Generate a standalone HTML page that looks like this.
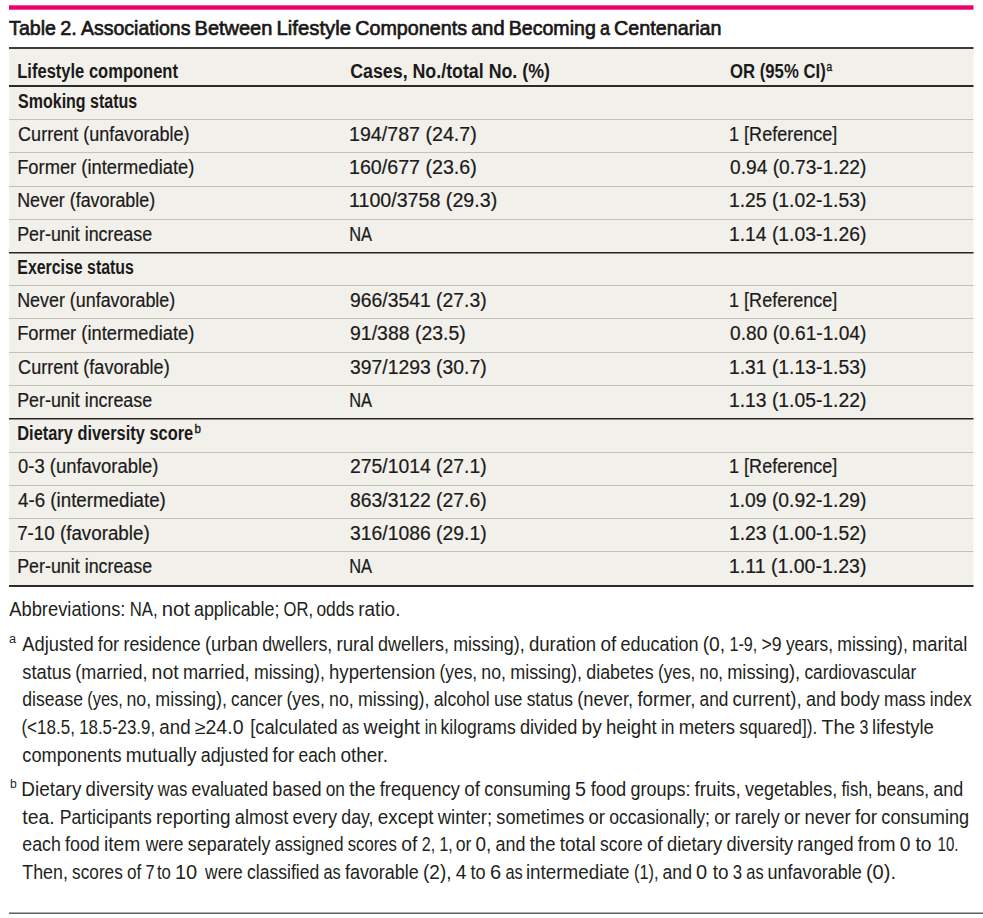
<!DOCTYPE html>
<html><head><meta charset="utf-8"><style>
html,body{margin:0;padding:0;background:#fff;}
svg{display:block;}
text{font-family:"Liberation Sans", sans-serif;}
</style></head><body>
<svg width="983" height="918" viewBox="0 0 983 918">
<rect x="9" y="5.3" width="964.5" height="4.4" fill="#ec0070"/>
<rect x="9" y="49" width="964.5" height="536" fill="#f1f0ea"/>
<rect x="9" y="47" width="964.5" height="2" fill="#3f3b39"/>
<rect x="9" y="85" width="964.5" height="2" fill="#2e2a28"/>
<rect x="9" y="119" width="964.5" height="1" fill="#c4c1b7"/>
<rect x="9" y="152" width="964.5" height="1" fill="#c4c1b7"/>
<rect x="9" y="186" width="964.5" height="1" fill="#c4c1b7"/>
<rect x="9" y="219" width="964.5" height="1" fill="#c4c1b7"/>
<rect x="9" y="252.0" width="964.5" height="1.5" fill="#2b2624"/>
<rect x="9" y="285" width="964.5" height="1" fill="#c4c1b7"/>
<rect x="9" y="318" width="964.5" height="1" fill="#c4c1b7"/>
<rect x="9" y="352" width="964.5" height="1" fill="#c4c1b7"/>
<rect x="9" y="385" width="964.5" height="1" fill="#c4c1b7"/>
<rect x="9" y="418.0" width="964.5" height="1.5" fill="#2b2624"/>
<rect x="9" y="452" width="964.5" height="1" fill="#c4c1b7"/>
<rect x="9" y="485" width="964.5" height="1" fill="#c4c1b7"/>
<rect x="9" y="518" width="964.5" height="1" fill="#c4c1b7"/>
<rect x="9" y="551" width="964.5" height="1" fill="#c4c1b7"/>
<rect x="9" y="585" width="964.5" height="2" fill="#2e2a28"/>
<rect x="9" y="912" width="974" height="1" fill="#ababab"/>
<rect x="9" y="913" width="974" height="1" fill="#626262"/>
<text x="17.25" y="78.00" font-size="19.5" font-weight="bold" fill="#1c1a1a" textLength="160.72" lengthAdjust="spacingAndGlyphs">Lifestyle component</text>
<text x="350.20" y="78.00" font-size="19.5" font-weight="bold" fill="#1c1a1a" textLength="199.75" lengthAdjust="spacingAndGlyphs">Cases, No./total No. (%)</text>
<text x="730.00" y="78.00" font-size="19.5" font-weight="bold" fill="#1c1a1a" textLength="95.72" lengthAdjust="spacingAndGlyphs">OR (95% CI)</text>
<text x="18.10" y="108.00" font-size="19.5" font-weight="bold" fill="#1c1a1a" textLength="119.07" lengthAdjust="spacingAndGlyphs">Smoking status</text>
<text x="18.10" y="141.00" font-size="19.5" fill="#1c1a1a" stroke="#1c1a1a" stroke-width="0.2" textLength="171.46" lengthAdjust="spacingAndGlyphs">Current (unfavorable)</text>
<text x="348.99" y="141.00" font-size="19.5" fill="#1c1a1a" stroke="#1c1a1a" stroke-width="0.2" textLength="127.80" lengthAdjust="spacingAndGlyphs">194/787 (24.7)</text>
<text x="729.08" y="141.00" font-size="19.5" fill="#1c1a1a" stroke="#1c1a1a" stroke-width="0.2" textLength="108.21" lengthAdjust="spacingAndGlyphs">1 [Reference]</text>
<text x="17.16" y="174.00" font-size="19.5" fill="#1c1a1a" stroke="#1c1a1a" stroke-width="0.2" textLength="177.20" lengthAdjust="spacingAndGlyphs">Former (intermediate)</text>
<text x="348.99" y="174.00" font-size="19.5" fill="#1c1a1a" stroke="#1c1a1a" stroke-width="0.2" textLength="127.80" lengthAdjust="spacingAndGlyphs">160/677 (23.6)</text>
<text x="730.00" y="174.00" font-size="19.5" fill="#1c1a1a" stroke="#1c1a1a" stroke-width="0.2" textLength="136.39" lengthAdjust="spacingAndGlyphs">0.94 (0.73-1.22)</text>
<text x="17.18" y="207.00" font-size="19.5" fill="#1c1a1a" stroke="#1c1a1a" stroke-width="0.2" textLength="137.97" lengthAdjust="spacingAndGlyphs">Never (favorable)</text>
<text x="348.99" y="207.00" font-size="19.5" fill="#1c1a1a" stroke="#1c1a1a" stroke-width="0.2" textLength="148.20" lengthAdjust="spacingAndGlyphs">1100/3758 (29.3)</text>
<text x="729.01" y="207.00" font-size="19.5" fill="#1c1a1a" stroke="#1c1a1a" stroke-width="0.2" textLength="137.38" lengthAdjust="spacingAndGlyphs">1.25 (1.02-1.53)</text>
<text x="17.18" y="241.00" font-size="19.5" fill="#1c1a1a" stroke="#1c1a1a" stroke-width="0.2" textLength="134.99" lengthAdjust="spacingAndGlyphs">Per-unit increase</text>
<text x="349.16" y="241.00" font-size="19.5" fill="#1c1a1a" stroke="#1c1a1a" stroke-width="0.2" textLength="22.85" lengthAdjust="spacingAndGlyphs">NA</text>
<text x="729.01" y="241.00" font-size="19.5" fill="#1c1a1a" stroke="#1c1a1a" stroke-width="0.2" textLength="137.38" lengthAdjust="spacingAndGlyphs">1.14 (1.03-1.26)</text>
<text x="17.29" y="274.00" font-size="19.5" font-weight="bold" fill="#1c1a1a" textLength="116.59" lengthAdjust="spacingAndGlyphs">Exercise status</text>
<text x="17.18" y="307.00" font-size="19.5" fill="#1c1a1a" stroke="#1c1a1a" stroke-width="0.2" textLength="158.07" lengthAdjust="spacingAndGlyphs">Never (unfavorable)</text>
<text x="350.00" y="307.00" font-size="19.5" fill="#1c1a1a" stroke="#1c1a1a" stroke-width="0.2" textLength="136.69" lengthAdjust="spacingAndGlyphs">966/3541 (27.3)</text>
<text x="729.08" y="307.00" font-size="19.5" fill="#1c1a1a" stroke="#1c1a1a" stroke-width="0.2" textLength="108.21" lengthAdjust="spacingAndGlyphs">1 [Reference]</text>
<text x="17.16" y="340.00" font-size="19.5" fill="#1c1a1a" stroke="#1c1a1a" stroke-width="0.2" textLength="177.20" lengthAdjust="spacingAndGlyphs">Former (intermediate)</text>
<text x="350.00" y="340.00" font-size="19.5" fill="#1c1a1a" stroke="#1c1a1a" stroke-width="0.2" textLength="115.79" lengthAdjust="spacingAndGlyphs">91/388 (23.5)</text>
<text x="730.00" y="340.00" font-size="19.5" fill="#1c1a1a" stroke="#1c1a1a" stroke-width="0.2" textLength="136.39" lengthAdjust="spacingAndGlyphs">0.80 (0.61-1.04)</text>
<text x="18.10" y="374.00" font-size="19.5" fill="#1c1a1a" stroke="#1c1a1a" stroke-width="0.2" textLength="151.56" lengthAdjust="spacingAndGlyphs">Current (favorable)</text>
<text x="350.00" y="374.00" font-size="19.5" fill="#1c1a1a" stroke="#1c1a1a" stroke-width="0.2" textLength="136.69" lengthAdjust="spacingAndGlyphs">397/1293 (30.7)</text>
<text x="729.01" y="374.00" font-size="19.5" fill="#1c1a1a" stroke="#1c1a1a" stroke-width="0.2" textLength="137.38" lengthAdjust="spacingAndGlyphs">1.31 (1.13-1.53)</text>
<text x="17.18" y="407.00" font-size="19.5" fill="#1c1a1a" stroke="#1c1a1a" stroke-width="0.2" textLength="134.99" lengthAdjust="spacingAndGlyphs">Per-unit increase</text>
<text x="349.16" y="407.00" font-size="19.5" fill="#1c1a1a" stroke="#1c1a1a" stroke-width="0.2" textLength="22.85" lengthAdjust="spacingAndGlyphs">NA</text>
<text x="729.01" y="407.00" font-size="19.5" fill="#1c1a1a" stroke="#1c1a1a" stroke-width="0.2" textLength="137.38" lengthAdjust="spacingAndGlyphs">1.13 (1.05-1.22)</text>
<text x="17.26" y="440.00" font-size="19.5" font-weight="bold" fill="#1c1a1a" textLength="175.91" lengthAdjust="spacingAndGlyphs">Dietary diversity score</text>
<text x="18.10" y="473.00" font-size="19.5" fill="#1c1a1a" stroke="#1c1a1a" stroke-width="0.2" textLength="140.27" lengthAdjust="spacingAndGlyphs">0-3 (unfavorable)</text>
<text x="350.00" y="473.00" font-size="19.5" fill="#1c1a1a" stroke="#1c1a1a" stroke-width="0.2" textLength="136.69" lengthAdjust="spacingAndGlyphs">275/1014 (27.1)</text>
<text x="729.08" y="473.00" font-size="19.5" fill="#1c1a1a" stroke="#1c1a1a" stroke-width="0.2" textLength="108.21" lengthAdjust="spacingAndGlyphs">1 [Reference]</text>
<text x="18.10" y="507.00" font-size="19.5" fill="#1c1a1a" stroke="#1c1a1a" stroke-width="0.2" textLength="147.77" lengthAdjust="spacingAndGlyphs">4-6 (intermediate)</text>
<text x="350.00" y="507.00" font-size="19.5" fill="#1c1a1a" stroke="#1c1a1a" stroke-width="0.2" textLength="136.69" lengthAdjust="spacingAndGlyphs">863/3122 (27.6)</text>
<text x="729.01" y="507.00" font-size="19.5" fill="#1c1a1a" stroke="#1c1a1a" stroke-width="0.2" textLength="137.38" lengthAdjust="spacingAndGlyphs">1.09 (0.92-1.29)</text>
<text x="17.14" y="540.00" font-size="19.5" fill="#1c1a1a" stroke="#1c1a1a" stroke-width="0.2" textLength="132.54" lengthAdjust="spacingAndGlyphs">7-10 (favorable)</text>
<text x="350.00" y="540.00" font-size="19.5" fill="#1c1a1a" stroke="#1c1a1a" stroke-width="0.2" textLength="136.69" lengthAdjust="spacingAndGlyphs">316/1086 (29.1)</text>
<text x="729.01" y="540.00" font-size="19.5" fill="#1c1a1a" stroke="#1c1a1a" stroke-width="0.2" textLength="137.38" lengthAdjust="spacingAndGlyphs">1.23 (1.00-1.52)</text>
<text x="17.18" y="573.00" font-size="19.5" fill="#1c1a1a" stroke="#1c1a1a" stroke-width="0.2" textLength="134.99" lengthAdjust="spacingAndGlyphs">Per-unit increase</text>
<text x="349.16" y="573.00" font-size="19.5" fill="#1c1a1a" stroke="#1c1a1a" stroke-width="0.2" textLength="22.85" lengthAdjust="spacingAndGlyphs">NA</text>
<text x="729.00" y="573.00" font-size="19.5" fill="#1c1a1a" stroke="#1c1a1a" stroke-width="0.2" textLength="137.39" lengthAdjust="spacingAndGlyphs">1.11 (1.00-1.23)</text>
<text x="826.50" y="70.70" font-size="12.5" fill="#1c1a1a" stroke="#1c1a1a" stroke-width="0.4" textLength="5.66" lengthAdjust="spacingAndGlyphs">a</text>
<text x="194.50" y="433.00" font-size="12.5" fill="#1c1a1a" stroke="#1c1a1a" stroke-width="0.4" textLength="6.46" lengthAdjust="spacingAndGlyphs">b</text>
<text x="8.90" y="643.00" font-size="12.5" fill="#231f20" textLength="7.05" lengthAdjust="spacingAndGlyphs">a</text>
<text x="10.00" y="788.30" font-size="12.5" fill="#231f20" textLength="6.75" lengthAdjust="spacingAndGlyphs">b</text>
<text x="9.10" y="35.00" font-size="21" fill="#1a1717" stroke="#1a1717" stroke-width="0.7" textLength="46.87" lengthAdjust="spacingAndGlyphs">Table</text>
<text x="60.15" y="35.00" font-size="21" fill="#1a1717" stroke="#1a1717" stroke-width="0.7" textLength="16.65" lengthAdjust="spacingAndGlyphs">2.</text>
<text x="81.00" y="35.00" font-size="21" fill="#1a1717" stroke="#1a1717" stroke-width="0.7" textLength="109.37" lengthAdjust="spacingAndGlyphs">Associations</text>
<text x="194.55" y="35.00" font-size="21" fill="#1a1717" stroke="#1a1717" stroke-width="0.7" textLength="77.80" lengthAdjust="spacingAndGlyphs">Between</text>
<text x="276.53" y="35.00" font-size="21" fill="#1a1717" stroke="#1a1717" stroke-width="0.7" textLength="74.50" lengthAdjust="spacingAndGlyphs">Lifestyle</text>
<text x="355.26" y="35.00" font-size="21" fill="#1a1717" stroke="#1a1717" stroke-width="0.7" textLength="111.74" lengthAdjust="spacingAndGlyphs">Components</text>
<text x="471.20" y="35.00" font-size="21" fill="#1a1717" stroke="#1a1717" stroke-width="0.7" textLength="33.35" lengthAdjust="spacingAndGlyphs">and</text>
<text x="508.77" y="35.00" font-size="21" fill="#1a1717" stroke="#1a1717" stroke-width="0.7" textLength="87.03" lengthAdjust="spacingAndGlyphs">Becoming</text>
<text x="600.00" y="35.00" font-size="21" fill="#1a1717" stroke="#1a1717" stroke-width="0.7" textLength="9.95" lengthAdjust="spacingAndGlyphs">a</text>
<text x="614.06" y="35.00" font-size="21" fill="#1a1717" stroke="#1a1717" stroke-width="0.7" textLength="107.48" lengthAdjust="spacingAndGlyphs">Centenarian</text>
<text x="9.20" y="616.00" font-size="19.3" fill="#231f20" textLength="116.25" lengthAdjust="spacingAndGlyphs">Abbreviations:</text>
<text x="129.73" y="616.00" font-size="19.3" fill="#231f20" textLength="27.90" lengthAdjust="spacingAndGlyphs">NA,</text>
<text x="161.65" y="616.00" font-size="19.3" fill="#231f20" textLength="28.15" lengthAdjust="spacingAndGlyphs">not</text>
<text x="194.00" y="616.00" font-size="19.3" fill="#231f20" textLength="85.40" lengthAdjust="spacingAndGlyphs">applicable;</text>
<text x="283.60" y="616.00" font-size="19.3" fill="#231f20" textLength="29.51" lengthAdjust="spacingAndGlyphs">OR,</text>
<text x="316.40" y="616.00" font-size="19.3" fill="#231f20" textLength="37.70" lengthAdjust="spacingAndGlyphs">odds</text>
<text x="358.22" y="616.00" font-size="19.3" fill="#231f20" textLength="42.22" lengthAdjust="spacingAndGlyphs">ratio.</text>
<text x="22.30" y="651.00" font-size="19.3" fill="#231f20" textLength="71.30" lengthAdjust="spacingAndGlyphs">Adjusted</text>
<text x="97.80" y="651.00" font-size="19.3" fill="#231f20" textLength="21.45" lengthAdjust="spacingAndGlyphs">for</text>
<text x="123.48" y="651.00" font-size="19.3" fill="#231f20" textLength="77.30" lengthAdjust="spacingAndGlyphs">residence</text>
<text x="204.95" y="651.00" font-size="19.3" fill="#231f20" textLength="53.05" lengthAdjust="spacingAndGlyphs">(urban</text>
<text x="262.20" y="651.00" font-size="19.3" fill="#231f20" textLength="70.08" lengthAdjust="spacingAndGlyphs">dwellers,</text>
<text x="336.43" y="651.00" font-size="19.3" fill="#231f20" textLength="37.47" lengthAdjust="spacingAndGlyphs">rural</text>
<text x="378.10" y="651.00" font-size="19.3" fill="#231f20" textLength="70.87" lengthAdjust="spacingAndGlyphs">dwellers,</text>
<text x="453.17" y="651.00" font-size="19.3" fill="#231f20" textLength="71.53" lengthAdjust="spacingAndGlyphs">missing),</text>
<text x="528.90" y="651.00" font-size="19.3" fill="#231f20" textLength="67.30" lengthAdjust="spacingAndGlyphs">duration</text>
<text x="600.40" y="651.00" font-size="19.3" fill="#231f20" textLength="15.80" lengthAdjust="spacingAndGlyphs">of</text>
<text x="620.40" y="651.00" font-size="19.3" fill="#231f20" textLength="78.17" lengthAdjust="spacingAndGlyphs">education</text>
<text x="702.70" y="651.00" font-size="19.3" fill="#231f20" textLength="22.50" lengthAdjust="spacingAndGlyphs">(0,</text>
<text x="729.57" y="651.00" font-size="19.3" fill="#231f20" textLength="27.74" lengthAdjust="spacingAndGlyphs">1-9,</text>
<text x="761.50" y="651.00" font-size="19.3" fill="#231f20" textLength="20.20" lengthAdjust="spacingAndGlyphs">&gt;9</text>
<text x="785.90" y="651.00" font-size="19.3" fill="#231f20" textLength="47.10" lengthAdjust="spacingAndGlyphs">years,</text>
<text x="837.18" y="651.00" font-size="19.3" fill="#231f20" textLength="70.70" lengthAdjust="spacingAndGlyphs">missing),</text>
<text x="912.05" y="651.00" font-size="19.3" fill="#231f20" textLength="55.18" lengthAdjust="spacingAndGlyphs">marital</text>
<text x="22.30" y="679.00" font-size="19.3" fill="#231f20" textLength="48.85" lengthAdjust="spacingAndGlyphs">status</text>
<text x="75.37" y="679.00" font-size="19.3" fill="#231f20" textLength="72.10" lengthAdjust="spacingAndGlyphs">(married,</text>
<text x="151.59" y="679.00" font-size="19.3" fill="#231f20" textLength="27.10" lengthAdjust="spacingAndGlyphs">not</text>
<text x="182.96" y="679.00" font-size="19.3" fill="#231f20" textLength="66.70" lengthAdjust="spacingAndGlyphs">married,</text>
<text x="253.88" y="679.00" font-size="19.3" fill="#231f20" textLength="71.00" lengthAdjust="spacingAndGlyphs">missing),</text>
<text x="329.04" y="679.00" font-size="19.3" fill="#231f20" textLength="106.30" lengthAdjust="spacingAndGlyphs">hypertension</text>
<text x="439.60" y="679.00" font-size="19.3" fill="#231f20" textLength="37.50" lengthAdjust="spacingAndGlyphs">(yes,</text>
<text x="481.28" y="679.00" font-size="19.3" fill="#231f20" textLength="24.70" lengthAdjust="spacingAndGlyphs">no,</text>
<text x="510.17" y="679.00" font-size="19.3" fill="#231f20" textLength="71.93" lengthAdjust="spacingAndGlyphs">missing),</text>
<text x="586.30" y="679.00" font-size="19.3" fill="#231f20" textLength="67.47" lengthAdjust="spacingAndGlyphs">diabetes</text>
<text x="658.01" y="679.00" font-size="19.3" fill="#231f20" textLength="37.30" lengthAdjust="spacingAndGlyphs">(yes,</text>
<text x="699.52" y="679.00" font-size="19.3" fill="#231f20" textLength="23.50" lengthAdjust="spacingAndGlyphs">no,</text>
<text x="727.15" y="679.00" font-size="19.3" fill="#231f20" textLength="73.05" lengthAdjust="spacingAndGlyphs">missing),</text>
<text x="804.40" y="679.00" font-size="19.3" fill="#231f20" textLength="111.78" lengthAdjust="spacingAndGlyphs">cardiovascular</text>
<text x="22.30" y="706.00" font-size="19.3" fill="#231f20" textLength="60.69" lengthAdjust="spacingAndGlyphs">disease</text>
<text x="87.25" y="706.00" font-size="19.3" fill="#231f20" textLength="35.62" lengthAdjust="spacingAndGlyphs">(yes,</text>
<text x="126.48" y="706.00" font-size="19.3" fill="#231f20" textLength="24.70" lengthAdjust="spacingAndGlyphs">no,</text>
<text x="155.37" y="706.00" font-size="19.3" fill="#231f20" textLength="71.53" lengthAdjust="spacingAndGlyphs">missing),</text>
<text x="231.10" y="706.00" font-size="19.3" fill="#231f20" textLength="51.22" lengthAdjust="spacingAndGlyphs">cancer</text>
<text x="286.48" y="706.00" font-size="19.3" fill="#231f20" textLength="38.40" lengthAdjust="spacingAndGlyphs">(yes,</text>
<text x="329.08" y="706.00" font-size="19.3" fill="#231f20" textLength="24.70" lengthAdjust="spacingAndGlyphs">no,</text>
<text x="357.97" y="706.00" font-size="19.3" fill="#231f20" textLength="71.53" lengthAdjust="spacingAndGlyphs">missing),</text>
<text x="433.70" y="706.00" font-size="19.3" fill="#231f20" textLength="55.98" lengthAdjust="spacingAndGlyphs">alcohol</text>
<text x="493.88" y="706.00" font-size="19.3" fill="#231f20" textLength="28.62" lengthAdjust="spacingAndGlyphs">use</text>
<text x="526.70" y="706.00" font-size="19.3" fill="#231f20" textLength="46.30" lengthAdjust="spacingAndGlyphs">status</text>
<text x="577.15" y="706.00" font-size="19.3" fill="#231f20" textLength="56.05" lengthAdjust="spacingAndGlyphs">(never,</text>
<text x="637.40" y="706.00" font-size="19.3" fill="#231f20" textLength="58.00" lengthAdjust="spacingAndGlyphs">former,</text>
<text x="699.60" y="706.00" font-size="19.3" fill="#231f20" textLength="28.80" lengthAdjust="spacingAndGlyphs">and</text>
<text x="732.60" y="706.00" font-size="19.3" fill="#231f20" textLength="69.10" lengthAdjust="spacingAndGlyphs">current),</text>
<text x="805.90" y="706.00" font-size="19.3" fill="#231f20" textLength="30.07" lengthAdjust="spacingAndGlyphs">and</text>
<text x="840.16" y="706.00" font-size="19.3" fill="#231f20" textLength="39.50" lengthAdjust="spacingAndGlyphs">body</text>
<text x="883.89" y="706.00" font-size="19.3" fill="#231f20" textLength="41.70" lengthAdjust="spacingAndGlyphs">mass</text>
<text x="929.79" y="706.00" font-size="19.3" fill="#231f20" textLength="41.88" lengthAdjust="spacingAndGlyphs">index</text>
<text x="21.42" y="734.00" font-size="19.3" fill="#231f20" textLength="53.50" lengthAdjust="spacingAndGlyphs">(&lt;18.5,</text>
<text x="79.13" y="734.00" font-size="19.3" fill="#231f20" textLength="75.97" lengthAdjust="spacingAndGlyphs">18.5-23.9,</text>
<text x="159.30" y="734.00" font-size="19.3" fill="#231f20" textLength="31.30" lengthAdjust="spacingAndGlyphs">and</text>
<text x="194.80" y="734.00" font-size="19.3" fill="#231f20" textLength="48.71" lengthAdjust="spacingAndGlyphs">≥24.0</text>
<text x="250.15" y="734.00" font-size="19.3" fill="#231f20" textLength="87.55" lengthAdjust="spacingAndGlyphs">[calculated</text>
<text x="341.90" y="734.00" font-size="19.3" fill="#231f20" textLength="17.35" lengthAdjust="spacingAndGlyphs">as</text>
<text x="363.61" y="734.00" font-size="19.3" fill="#231f20" textLength="56.44" lengthAdjust="spacingAndGlyphs">weight</text>
<text x="424.77" y="734.00" font-size="19.3" fill="#231f20" textLength="12.43" lengthAdjust="spacingAndGlyphs">in</text>
<text x="440.59" y="734.00" font-size="19.3" fill="#231f20" textLength="75.21" lengthAdjust="spacingAndGlyphs">kilograms</text>
<text x="520.00" y="734.00" font-size="19.3" fill="#231f20" textLength="57.46" lengthAdjust="spacingAndGlyphs">divided</text>
<text x="581.61" y="734.00" font-size="19.3" fill="#231f20" textLength="20.20" lengthAdjust="spacingAndGlyphs">by</text>
<text x="606.03" y="734.00" font-size="19.3" fill="#231f20" textLength="50.70" lengthAdjust="spacingAndGlyphs">height</text>
<text x="661.00" y="734.00" font-size="19.3" fill="#231f20" textLength="13.50" lengthAdjust="spacingAndGlyphs">in</text>
<text x="678.64" y="734.00" font-size="19.3" fill="#231f20" textLength="56.46" lengthAdjust="spacingAndGlyphs">meters</text>
<text x="739.30" y="734.00" font-size="19.3" fill="#231f20" textLength="78.00" lengthAdjust="spacingAndGlyphs">squared]).</text>
<text x="821.50" y="734.00" font-size="19.3" fill="#231f20" textLength="33.64" lengthAdjust="spacingAndGlyphs">The</text>
<text x="859.60" y="734.00" font-size="19.3" fill="#231f20" textLength="8.88" lengthAdjust="spacingAndGlyphs">3</text>
<text x="872.04" y="734.00" font-size="19.3" fill="#231f20" textLength="61.86" lengthAdjust="spacingAndGlyphs">lifestyle</text>
<text x="22.30" y="762.00" font-size="19.3" fill="#231f20" textLength="99.26" lengthAdjust="spacingAndGlyphs">components</text>
<text x="125.71" y="762.00" font-size="19.3" fill="#231f20" textLength="70.79" lengthAdjust="spacingAndGlyphs">mutually</text>
<text x="200.70" y="762.00" font-size="19.3" fill="#231f20" textLength="67.70" lengthAdjust="spacingAndGlyphs">adjusted</text>
<text x="272.60" y="762.00" font-size="19.3" fill="#231f20" textLength="21.70" lengthAdjust="spacingAndGlyphs">for</text>
<text x="298.50" y="762.00" font-size="19.3" fill="#231f20" textLength="37.70" lengthAdjust="spacingAndGlyphs">each</text>
<text x="340.40" y="762.00" font-size="19.3" fill="#231f20" textLength="47.54" lengthAdjust="spacingAndGlyphs">other.</text>
<text x="21.32" y="796.00" font-size="19.3" fill="#231f20" textLength="60.08" lengthAdjust="spacingAndGlyphs">Dietary</text>
<text x="85.60" y="796.00" font-size="19.3" fill="#231f20" textLength="68.06" lengthAdjust="spacingAndGlyphs">diversity</text>
<text x="157.76" y="796.00" font-size="19.3" fill="#231f20" textLength="29.44" lengthAdjust="spacingAndGlyphs">was</text>
<text x="191.40" y="796.00" font-size="19.3" fill="#231f20" textLength="76.78" lengthAdjust="spacingAndGlyphs">evaluated</text>
<text x="272.36" y="796.00" font-size="19.3" fill="#231f20" textLength="49.14" lengthAdjust="spacingAndGlyphs">based</text>
<text x="325.70" y="796.00" font-size="19.3" fill="#231f20" textLength="19.30" lengthAdjust="spacingAndGlyphs">on</text>
<text x="349.20" y="796.00" font-size="19.3" fill="#231f20" textLength="26.40" lengthAdjust="spacingAndGlyphs">the</text>
<text x="379.80" y="796.00" font-size="19.3" fill="#231f20" textLength="80.20" lengthAdjust="spacingAndGlyphs">frequency</text>
<text x="464.20" y="796.00" font-size="19.3" fill="#231f20" textLength="15.80" lengthAdjust="spacingAndGlyphs">of</text>
<text x="484.20" y="796.00" font-size="19.3" fill="#231f20" textLength="86.60" lengthAdjust="spacingAndGlyphs">consuming</text>
<text x="575.00" y="796.00" font-size="19.3" fill="#231f20" textLength="11.00" lengthAdjust="spacingAndGlyphs">5</text>
<text x="590.70" y="796.00" font-size="19.3" fill="#231f20" textLength="35.60" lengthAdjust="spacingAndGlyphs">food</text>
<text x="630.50" y="796.00" font-size="19.3" fill="#231f20" textLength="59.90" lengthAdjust="spacingAndGlyphs">groups:</text>
<text x="694.60" y="796.00" font-size="19.3" fill="#231f20" textLength="46.10" lengthAdjust="spacingAndGlyphs">fruits,</text>
<text x="744.90" y="796.00" font-size="19.3" fill="#231f20" textLength="92.30" lengthAdjust="spacingAndGlyphs">vegetables,</text>
<text x="841.40" y="796.00" font-size="19.3" fill="#231f20" textLength="31.22" lengthAdjust="spacingAndGlyphs">fish,</text>
<text x="876.80" y="796.00" font-size="19.3" fill="#231f20" textLength="52.30" lengthAdjust="spacingAndGlyphs">beans,</text>
<text x="933.30" y="796.00" font-size="19.3" fill="#231f20" textLength="29.97" lengthAdjust="spacingAndGlyphs">and</text>
<text x="22.30" y="824.00" font-size="19.3" fill="#231f20" textLength="32.43" lengthAdjust="spacingAndGlyphs">tea.</text>
<text x="59.79" y="824.00" font-size="19.3" fill="#231f20" textLength="92.00" lengthAdjust="spacingAndGlyphs">Participants</text>
<text x="155.92" y="824.00" font-size="19.3" fill="#231f20" textLength="74.68" lengthAdjust="spacingAndGlyphs">reporting</text>
<text x="234.80" y="824.00" font-size="19.3" fill="#231f20" textLength="53.50" lengthAdjust="spacingAndGlyphs">almost</text>
<text x="292.50" y="824.00" font-size="19.3" fill="#231f20" textLength="44.60" lengthAdjust="spacingAndGlyphs">every</text>
<text x="341.30" y="824.00" font-size="19.3" fill="#231f20" textLength="32.20" lengthAdjust="spacingAndGlyphs">day,</text>
<text x="377.70" y="824.00" font-size="19.3" fill="#231f20" textLength="55.88" lengthAdjust="spacingAndGlyphs">except</text>
<text x="437.76" y="824.00" font-size="19.3" fill="#231f20" textLength="54.34" lengthAdjust="spacingAndGlyphs">winter;</text>
<text x="496.30" y="824.00" font-size="19.3" fill="#231f20" textLength="88.00" lengthAdjust="spacingAndGlyphs">sometimes</text>
<text x="588.50" y="824.00" font-size="19.3" fill="#231f20" textLength="16.50" lengthAdjust="spacingAndGlyphs">or</text>
<text x="609.20" y="824.00" font-size="19.3" fill="#231f20" textLength="100.80" lengthAdjust="spacingAndGlyphs">occasionally;</text>
<text x="714.20" y="824.00" font-size="19.3" fill="#231f20" textLength="16.25" lengthAdjust="spacingAndGlyphs">or</text>
<text x="734.66" y="824.00" font-size="19.3" fill="#231f20" textLength="45.14" lengthAdjust="spacingAndGlyphs">rarely</text>
<text x="784.00" y="824.00" font-size="19.3" fill="#231f20" textLength="16.25" lengthAdjust="spacingAndGlyphs">or</text>
<text x="804.44" y="824.00" font-size="19.3" fill="#231f20" textLength="46.26" lengthAdjust="spacingAndGlyphs">never</text>
<text x="854.90" y="824.00" font-size="19.3" fill="#231f20" textLength="22.20" lengthAdjust="spacingAndGlyphs">for</text>
<text x="881.30" y="824.00" font-size="19.3" fill="#231f20" textLength="87.88" lengthAdjust="spacingAndGlyphs">consuming</text>
<text x="22.30" y="851.00" font-size="19.3" fill="#231f20" textLength="38.50" lengthAdjust="spacingAndGlyphs">each</text>
<text x="65.00" y="851.00" font-size="19.3" fill="#231f20" textLength="34.77" lengthAdjust="spacingAndGlyphs">food</text>
<text x="103.90" y="851.00" font-size="19.3" fill="#231f20" textLength="36.45" lengthAdjust="spacingAndGlyphs">item</text>
<text x="145.71" y="851.00" font-size="19.3" fill="#231f20" textLength="37.89" lengthAdjust="spacingAndGlyphs">were</text>
<text x="187.80" y="851.00" font-size="19.3" fill="#231f20" textLength="82.70" lengthAdjust="spacingAndGlyphs">separately</text>
<text x="274.70" y="851.00" font-size="19.3" fill="#231f20" textLength="68.80" lengthAdjust="spacingAndGlyphs">assigned</text>
<text x="347.70" y="851.00" font-size="19.3" fill="#231f20" textLength="49.30" lengthAdjust="spacingAndGlyphs">scores</text>
<text x="401.20" y="851.00" font-size="19.3" fill="#231f20" textLength="16.09" lengthAdjust="spacingAndGlyphs">of</text>
<text x="421.80" y="851.00" font-size="19.3" fill="#231f20" textLength="13.46" lengthAdjust="spacingAndGlyphs">2,</text>
<text x="439.48" y="851.00" font-size="19.3" fill="#231f20" textLength="13.17" lengthAdjust="spacingAndGlyphs">1,</text>
<text x="455.70" y="851.00" font-size="19.3" fill="#231f20" textLength="15.70" lengthAdjust="spacingAndGlyphs">or</text>
<text x="475.60" y="851.00" font-size="19.3" fill="#231f20" textLength="15.80" lengthAdjust="spacingAndGlyphs">0,</text>
<text x="495.60" y="851.00" font-size="19.3" fill="#231f20" textLength="29.90" lengthAdjust="spacingAndGlyphs">and</text>
<text x="529.70" y="851.00" font-size="19.3" fill="#231f20" textLength="25.80" lengthAdjust="spacingAndGlyphs">the</text>
<text x="559.70" y="851.00" font-size="19.3" fill="#231f20" textLength="36.00" lengthAdjust="spacingAndGlyphs">total</text>
<text x="599.90" y="851.00" font-size="19.3" fill="#231f20" textLength="42.80" lengthAdjust="spacingAndGlyphs">score</text>
<text x="646.90" y="851.00" font-size="19.3" fill="#231f20" textLength="15.80" lengthAdjust="spacingAndGlyphs">of</text>
<text x="666.90" y="851.00" font-size="19.3" fill="#231f20" textLength="55.30" lengthAdjust="spacingAndGlyphs">dietary</text>
<text x="726.40" y="851.00" font-size="19.3" fill="#231f20" textLength="66.76" lengthAdjust="spacingAndGlyphs">diversity</text>
<text x="797.36" y="851.00" font-size="19.3" fill="#231f20" textLength="56.24" lengthAdjust="spacingAndGlyphs">ranged</text>
<text x="857.80" y="851.00" font-size="19.3" fill="#231f20" textLength="37.80" lengthAdjust="spacingAndGlyphs">from</text>
<text x="899.80" y="851.00" font-size="19.3" fill="#231f20" textLength="10.73" lengthAdjust="spacingAndGlyphs">0</text>
<text x="915.50" y="851.00" font-size="19.3" fill="#231f20" textLength="16.09" lengthAdjust="spacingAndGlyphs">to</text>
<text x="937.52" y="851.00" font-size="19.3" fill="#231f20" textLength="20.94" lengthAdjust="spacingAndGlyphs">10.</text>
<text x="22.30" y="879.00" font-size="19.3" fill="#231f20" textLength="45.60" lengthAdjust="spacingAndGlyphs">Then,</text>
<text x="72.10" y="879.00" font-size="19.3" fill="#231f20" textLength="50.70" lengthAdjust="spacingAndGlyphs">scores</text>
<text x="127.00" y="879.00" font-size="19.3" fill="#231f20" textLength="14.30" lengthAdjust="spacingAndGlyphs">of</text>
<text x="145.50" y="879.00" font-size="19.3" fill="#231f20" textLength="9.11" lengthAdjust="spacingAndGlyphs">7</text>
<text x="156.90" y="879.00" font-size="19.3" fill="#231f20" textLength="14.03" lengthAdjust="spacingAndGlyphs">to</text>
<text x="174.96" y="879.00" font-size="19.3" fill="#231f20" textLength="22.27" lengthAdjust="spacingAndGlyphs">10</text>
<text x="205.10" y="879.00" font-size="19.3" fill="#231f20" textLength="37.70" lengthAdjust="spacingAndGlyphs">were</text>
<text x="247.00" y="879.00" font-size="19.3" fill="#231f20" textLength="72.30" lengthAdjust="spacingAndGlyphs">classified</text>
<text x="323.50" y="879.00" font-size="19.3" fill="#231f20" textLength="17.30" lengthAdjust="spacingAndGlyphs">as</text>
<text x="344.90" y="879.00" font-size="19.3" fill="#231f20" textLength="73.97" lengthAdjust="spacingAndGlyphs">favorable</text>
<text x="423.02" y="879.00" font-size="19.3" fill="#231f20" textLength="28.48" lengthAdjust="spacingAndGlyphs">(2),</text>
<text x="455.70" y="879.00" font-size="19.3" fill="#231f20" textLength="10.70" lengthAdjust="spacingAndGlyphs">4</text>
<text x="470.60" y="879.00" font-size="19.3" fill="#231f20" textLength="15.10" lengthAdjust="spacingAndGlyphs">to</text>
<text x="489.90" y="879.00" font-size="19.3" fill="#231f20" textLength="11.14" lengthAdjust="spacingAndGlyphs">6</text>
<text x="505.50" y="879.00" font-size="19.3" fill="#231f20" textLength="17.30" lengthAdjust="spacingAndGlyphs">as</text>
<text x="525.92" y="879.00" font-size="19.3" fill="#231f20" textLength="103.70" lengthAdjust="spacingAndGlyphs">intermediate</text>
<text x="633.95" y="879.00" font-size="19.3" fill="#231f20" textLength="24.58" lengthAdjust="spacingAndGlyphs">(1),</text>
<text x="662.60" y="879.00" font-size="19.3" fill="#231f20" textLength="29.30" lengthAdjust="spacingAndGlyphs">and</text>
<text x="696.10" y="879.00" font-size="19.3" fill="#231f20" textLength="11.14" lengthAdjust="spacingAndGlyphs">0</text>
<text x="712.80" y="879.00" font-size="19.3" fill="#231f20" textLength="15.80" lengthAdjust="spacingAndGlyphs">to</text>
<text x="732.80" y="879.00" font-size="19.3" fill="#231f20" textLength="9.30" lengthAdjust="spacingAndGlyphs">3</text>
<text x="746.30" y="879.00" font-size="19.3" fill="#231f20" textLength="17.30" lengthAdjust="spacingAndGlyphs">as</text>
<text x="767.46" y="879.00" font-size="19.3" fill="#231f20" textLength="94.40" lengthAdjust="spacingAndGlyphs">unfavorable</text>
<text x="865.96" y="879.00" font-size="19.3" fill="#231f20" textLength="30.05" lengthAdjust="spacingAndGlyphs">(0).</text>
</svg>
</body></html>
